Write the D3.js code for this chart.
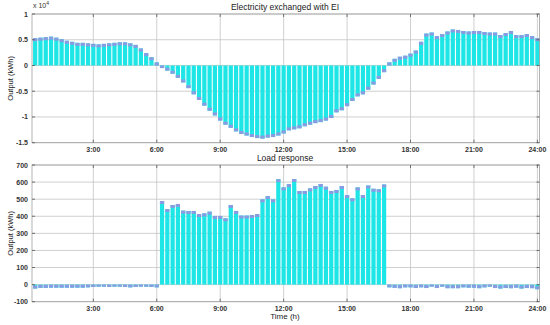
<!DOCTYPE html>
<html>
<head>
<meta charset="utf-8">
<script src="https://cdn.jsdelivr.net/npm/d3@7"></script>
<style>
  body { margin: 0; background: #fff; }
  text { font-family: "Liberation Sans", Arial, sans-serif; }
</style>
</head>
<body>
<script>
// 15-minute slots, 0:15 ... 24:00
const slots = d3.range(1, 97).map(i => i * 0.25);

// electricity exchanged with EI (x 10^4 kWh)
const exchanged = [
  0.53, 0.54, 0.55, 0.56, 0.54, 0.51, 0.48, 0.46, 0.44, 0.44, 0.43, 0.42,
  0.41, 0.42, 0.43, 0.44, 0.45, 0.45, 0.43, 0.40, 0.33, 0.24, 0.16, 0.06,
  -0.05, -0.10, -0.16, -0.24, -0.33, -0.44, -0.56, -0.67, -0.78, -0.88, -0.97, -1.07,
  -1.15, -1.21, -1.28, -1.33, -1.36, -1.39, -1.41, -1.42, -1.40, -1.39, -1.36, -1.32,
  -1.26, -1.24, -1.22, -1.18, -1.15, -1.12, -1.10, -1.07, -1.02, -0.91, -0.87, -0.79,
  -0.69, -0.60, -0.56, -0.47, -0.37, -0.26, -0.13, 0.06, 0.13, 0.17, 0.19, 0.23,
  0.29, 0.46, 0.62, 0.64, 0.57, 0.61, 0.66, 0.70, 0.69, 0.67, 0.66, 0.67,
  0.67, 0.65, 0.64, 0.64, 0.59, 0.63, 0.67, 0.59, 0.59, 0.61, 0.57, 0.53
];

// load response (kWh)
const loadResp = [
  -23, -19, -19, -18, -18, -18, -18, -18, -18, -18, -16, -14,
  -12, -12, -14, -12, -12, -14, -16, -14, -12, -12, -14, -16,
  489, 442, 466, 472, 433, 431, 431, 413, 417, 427, 402, 402,
  388, 466, 431, 404, 404, 407, 413, 499, 518, 499, 617, 569,
  588, 618, 548, 548, 563, 577, 589, 573, 548, 554, 577, 524,
  505, 569, 524, 580, 561, 558, 586, -16, -19, -21, -16, -16,
  -20, -16, -20, -12, -20, -12, -21, -21, -21, -16, -18, -18,
  -21, -16, -12, -20, -23, -20, -21, -18, -23, -20, -21, -27
];

const xTicks = [3, 6, 9, 12, 15, 18, 21, 24];
const xTickLabels = ["3:00", "6:00", "9:00", "12:00", "15:00", "18:00", "21:00", "24:00"];
const topTicks = [1, 0.5, 0, -0.5, -1, -1.5];
const topTickLabels = ["1", "0.5", "0", "-0.5", "-1", "-1.5"];
const botTicks = [700, 600, 500, 400, 300, 200, 100, 0, -100];

const W = 550, H = 325;
const svg = d3.select("body").append("svg")
    .attr("width", W)
    .attr("height", H);

const x = d3.scaleLinear().domain([0.1, 24.1]).range([32, 539.5]);
const barW = x(0.3) - x(0.1);

const cyan = "#1ee6e6", cap = "#8a9be2";

function panel(values, yDomain, yRange, yTicks, yTickFmt, title, label) {
    const y = d3.scaleLinear().domain(yDomain).range(yRange);
    const g = svg.append("g");
    const [x0, x1] = x.range();

    // grid
    g.append("g").selectAll("line").data(xTicks).join("line")
        .attr("x1", d => x(d)).attr("x2", d => x(d))
        .attr("y1", y.range()[1]).attr("y2", y.range()[0])
        .attr("stroke", "#c4c4c4").attr("stroke-width", 0.8);
    g.append("g").selectAll("line").data(yTicks).join("line")
        .attr("x1", x0).attr("x2", x1)
        .attr("y1", d => y(d)).attr("y2", d => y(d))
        .attr("stroke", "#c4c4c4").attr("stroke-width", 0.8);

    // bars
    const bars = g.append("g").selectAll("g").data(values).join("g");
    bars.append("rect")
        .attr("x", (d, i) => x(slots[i]) - barW / 2)
        .attr("width", barW)
        .attr("y", d => Math.min(y(d), y(0)))
        .attr("height", d => Math.abs(y(d) - y(0)))
        .attr("fill", cyan);
    bars.append("rect")
        .attr("x", (d, i) => x(slots[i]) - barW / 2)
        .attr("width", barW)
        .attr("y", d => {
            const h = Math.min(3, Math.abs(y(d) - y(0)));
            return d >= 0 ? y(d) : y(d) - h;
        })
        .attr("height", d => Math.min(3, Math.abs(y(d) - y(0))))
        .attr("fill", cap);

    // box
    g.append("rect")
        .attr("x", x0).attr("y", y.range()[1])
        .attr("width", x1 - x0).attr("height", y.range()[0] - y.range()[1])
        .attr("fill", "none").attr("stroke", "#a0a0a0").attr("stroke-width", 0.8);

    // small ticks
    g.append("g").selectAll("line").data(xTicks).join("line")
        .attr("x1", d => x(d)).attr("x2", d => x(d))
        .attr("y1", y.range()[0]).attr("y2", y.range()[0] - 3)
        .attr("stroke", "#555").attr("stroke-width", 0.8);
    g.append("g").selectAll("line").data(xTicks).join("line")
        .attr("x1", d => x(d)).attr("x2", d => x(d))
        .attr("y1", y.range()[1]).attr("y2", y.range()[1] + 3)
        .attr("stroke", "#555").attr("stroke-width", 0.8);
    g.append("g").selectAll("line").data(yTicks).join("line")
        .attr("x1", x0).attr("x2", x0 + 3)
        .attr("y1", d => y(d)).attr("y2", d => y(d))
        .attr("stroke", "#555").attr("stroke-width", 0.8);
    g.append("g").selectAll("line").data(yTicks).join("line")
        .attr("x1", x1).attr("x2", x1 - 3)
        .attr("y1", d => y(d)).attr("y2", d => y(d))
        .attr("stroke", "#555").attr("stroke-width", 0.8);

    // tick labels
    g.append("g").selectAll("text").data(xTicks).join("text")
        .attr("x", d => x(d)).attr("y", y.range()[0] + 9)
        .attr("text-anchor", "middle")
        .attr("font-size", 7).attr("font-weight", "bold").attr("fill", "#333")
        .text((d, i) => xTickLabels[i]);
    g.append("g").selectAll("text").data(yTicks).join("text")
        .attr("x", x0 - 4).attr("y", d => y(d) + 2.5)
        .attr("text-anchor", "end")
        .attr("font-size", 7).attr("font-weight", "bold").attr("fill", "#333")
        .text((d, i) => yTickFmt(d, i));

    // title
    g.append("text")
        .attr("x", 285).attr("y", y.range()[1] - 4)
        .attr("text-anchor", "middle")
        .attr("font-size", 8.5).attr("fill", "#222")
        .text(title);

    // y label
    g.append("text")
        .attr("transform", `translate(13,${(y.range()[0] + y.range()[1]) / 2}) rotate(-90)`)
        .attr("text-anchor", "middle")
        .attr("font-size", 7.5).attr("fill", "#222")
        .text(label);
    return y;
}

panel(exchanged, [-1.5, 1], [142.7, 14], topTicks, (d, i) => topTickLabels[i],
      "Electricity exchanged with EI", "Output (kWh)");
panel(loadResp, [-100, 700], [301.7, 165], botTicks, d => String(d),
      "Load response", "Output (kWh)");

// exponent label
const ex = svg.append("text").attr("x", 33).attr("y", 8)
    .attr("font-size", 7).attr("fill", "#333");
ex.append("tspan").text("x 10");
ex.append("tspan").attr("dy", -3).attr("font-size", 5).text("4");

// x label
svg.append("text")
    .attr("x", 285).attr("y", 319)
    .attr("text-anchor", "middle")
    .attr("font-size", 8).attr("fill", "#222")
    .text("Time (h)");
</script>
</body>
</html>
